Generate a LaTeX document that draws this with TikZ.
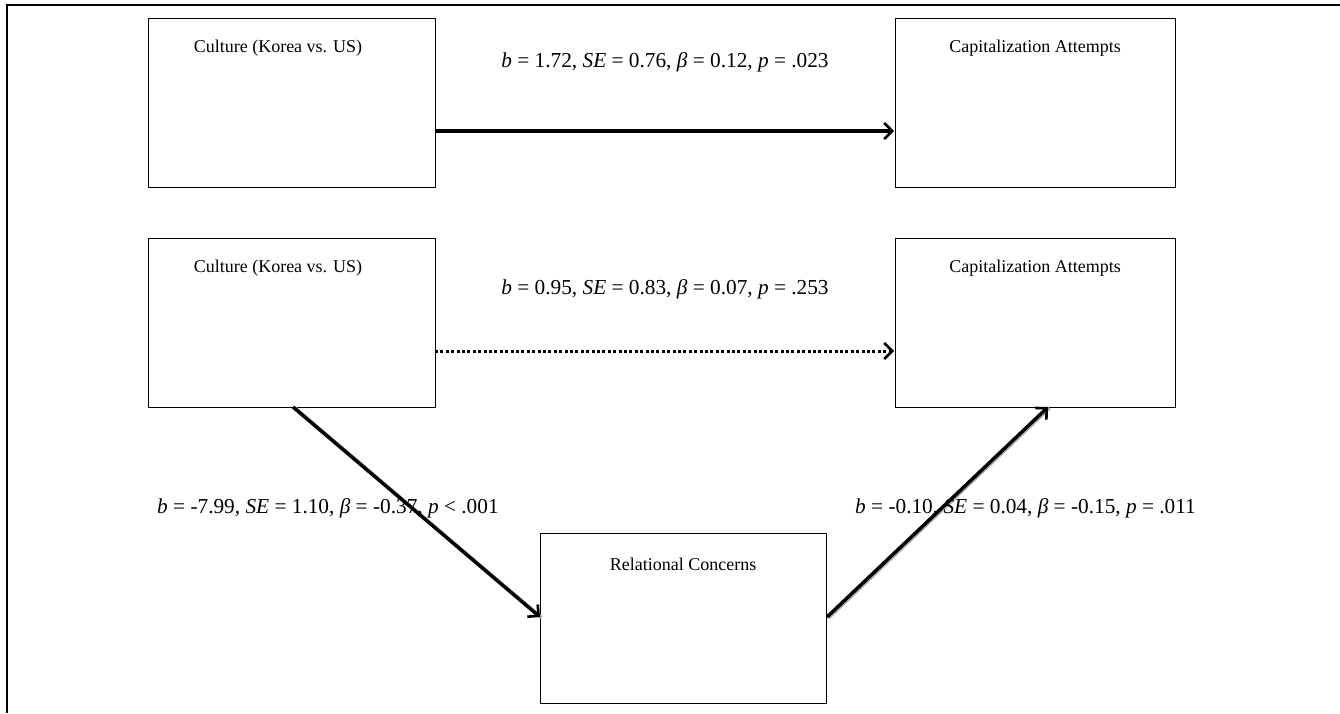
\documentclass[tikz,border=0pt]{standalone}
\usepackage{fontspec}
\setmainfont{Liberation Serif}
\usetikzlibrary{arrows.meta}
\begin{document}
\begin{tikzpicture}[x=1pt,y=-1pt,
  box/.style={draw=black,line width=1.4pt,minimum width=287pt,minimum height=169pt,anchor=north west,inner sep=0pt},
  lbl/.style={font=\fontsize{18}{21}\selectfont,inner sep=0pt},
  coef/.style={font=\fontsize{21.3}{25}\selectfont,inner sep=0pt},
  tip/.style={-{Straight Barb[length=8pt,width=16pt,line width=2.6pt]}},
  path/.style={line width=3.4pt,tip},
  shadow/.style={line width=3.4pt,draw=black!35}]
\useasboundingbox (0,0) rectangle (1340,713);
\fill[white] (0,0) rectangle (1340,713);
\draw[line width=1.8pt] (7,713) -- (7,5) -- (1340,5);
\node[box] (A) at (148,18) {};
\node[box,minimum width=280pt] (B) at (895,18) {};
\node[box] (C) at (148,238) {};
\node[box,minimum width=280pt] (D) at (895,238) {};
\node[box,minimum width=286pt,minimum height=170pt] (E) at (540,533) {};
\node[lbl] (tA) at (278,48) {Culture (Korea vs. US)};
\node[lbl] (tB) at (1035,48) {Capitalization Attempts};
\node[lbl] (tC) at (278,268) {Culture (Korea vs. US)};
\node[lbl] (tD) at (1035,268) {Capitalization Attempts};
\node[lbl] (tE) at (683,564) {Relational Concerns};
\coordinate (a1) at (435,131);
\coordinate (b1) at (894,131);
\coordinate (c1) at (435,351);
\coordinate (d1) at (894,351);
\coordinate (c2) at (293,407);
\coordinate (e1) at (540,617);
\coordinate (e2) at (827,617);
\coordinate (d2) at (1048,407);
\draw[path] (a1) -- (b1);
\draw[line width=3pt,dash pattern=on 3pt off 2.4pt] (c1) -- ([xshift=-4pt]d1);
\draw[path,dash pattern=on 0pt off 0pt] ([xshift=-2pt]d1) -- (d1);
\draw[shadow] ([shift={(1.5,0.5)}]c2) -- ([shift={(1.5,0.5)}]e1);
\draw[path] (c2) -- (e1);
\draw[shadow] ([shift={(1.5,0.8)}]e2) -- ([shift={(1.5,0.8)}]d2);
\draw[path] (e2) -- (d2);
\node[coef] (l1) at (665,62) {\textit{b} = 1.72, \textit{SE} = 0.76, \textit{β} = 0.12, \textit{p} = .023};
\node[coef] (l2) at (665,289) {\textit{b} = 0.95, \textit{SE} = 0.83, \textit{β} = 0.07, \textit{p} = .253};
\node[coef,anchor=west] (l3) at (157,508) {\textit{b} = -7.99, \textit{SE} = 1.10, \textit{β} = -0.37, \textit{p} < .001};
\node[coef,anchor=west] (l4) at (855,508) {\textit{b} = -0.10, \textit{SE} = 0.04, \textit{β} = -0.15, \textit{p} = .011};
\end{tikzpicture}
\end{document}
